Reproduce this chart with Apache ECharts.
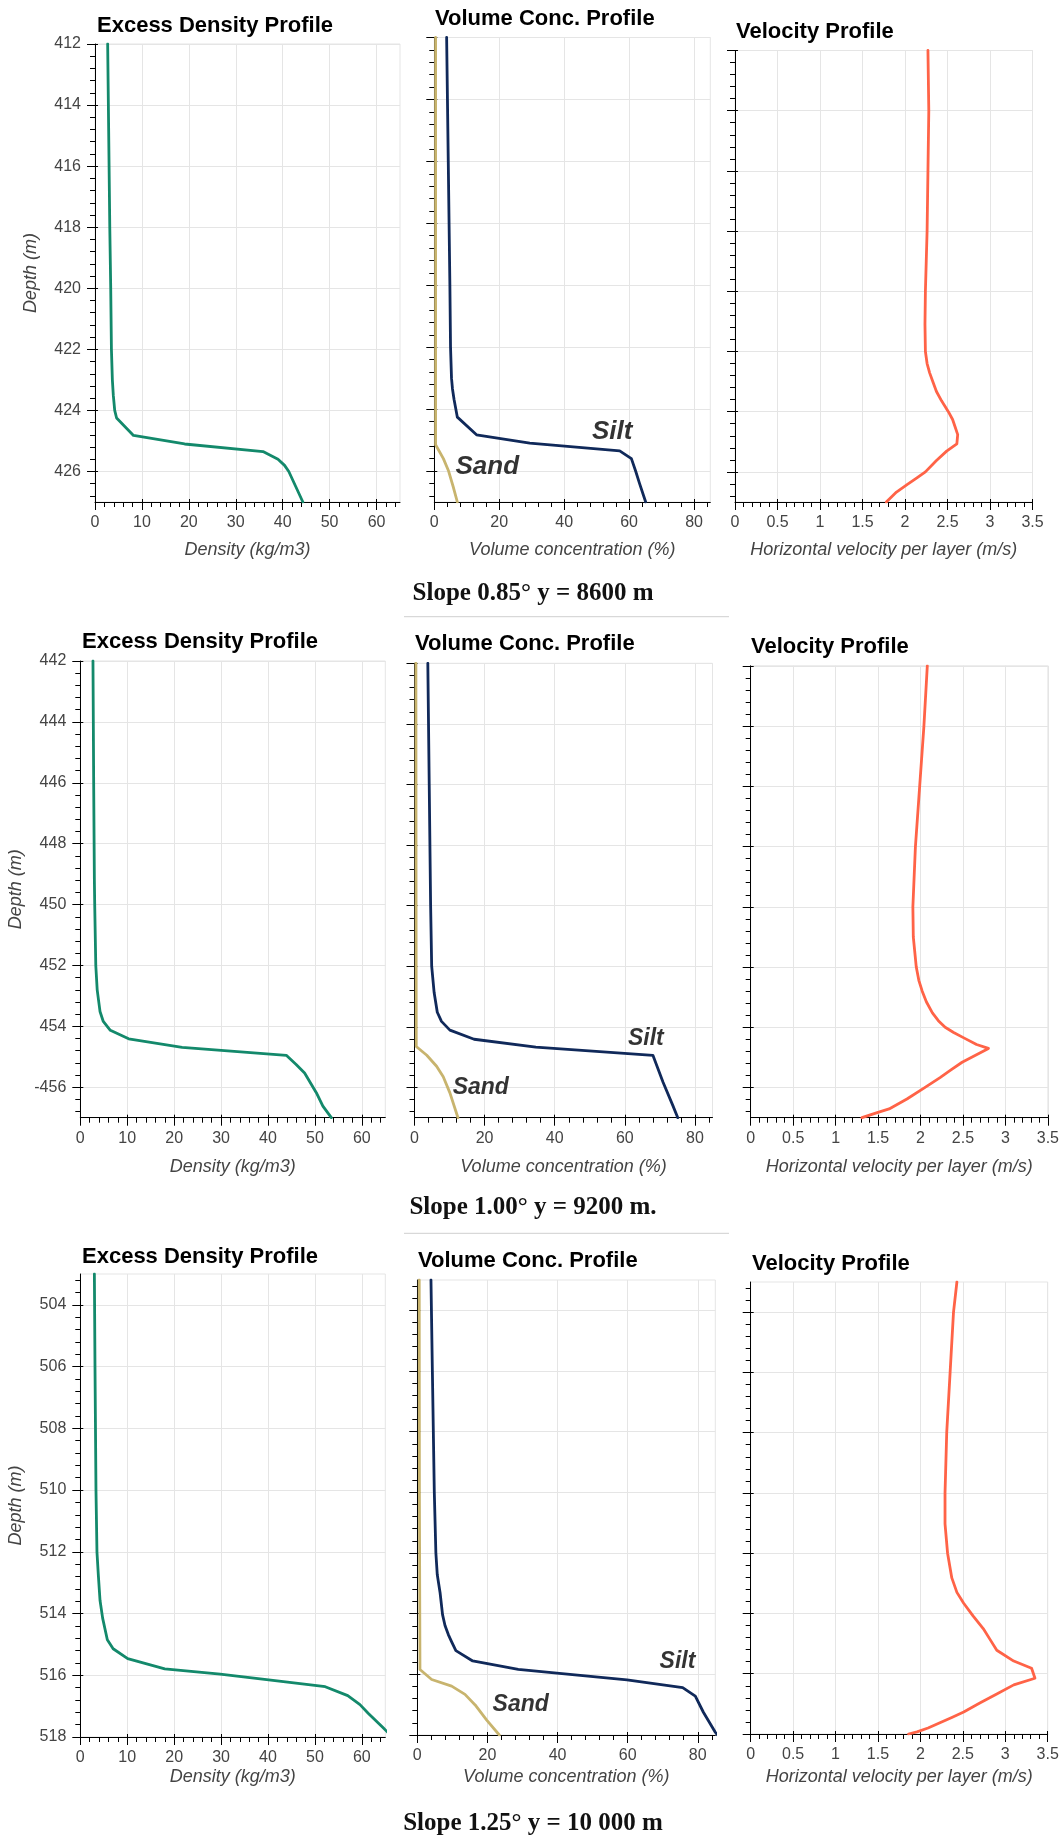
<!DOCTYPE html>
<html>
<head>
<meta charset="utf-8">
<title>Turbidity current profiles</title>
<script src="https://cdn.jsdelivr.net/npm/echarts@6.0.0/dist/echarts.min.js"></script>
<style>
  html, body { margin: 0; padding: 0; background: #fff; }
  #chart { width: 1062px; height: 1839px; }
</style>
</head>
<body>
<div id="chart"></div>
<script>
// ---------- Slope 0.85°, y = 8600 m ----------
const dens1Depth = [412, 414, 416, 418, 420, 422, 423, 423.5, 424, 424.25, 424.82, 425.1, 425.35, 425.6, 425.8, 426, 426.5, 427];
const dens1      = [2.7, 2.85, 3.0, 3.15, 3.35, 3.5, 3.7, 3.9, 4.2, 4.6, 8.2, 19.1, 35.8, 39.0, 40.4, 41.3, 42.8, 44.3];
const silt1Depth = [412, 416, 420, 422, 423, 423.35, 423.7, 424.26, 424.83, 425.1, 425.35, 425.6, 426, 426.4, 427];
const silt1      = [3.8, 4.3, 4.8, 5.0, 5.3, 5.6, 6.1, 7.1, 13.0, 29.4, 57.1, 60.7, 62.0, 63.2, 65.1];
const sand1Depth = [412, 418, 425.15, 425.6, 426, 426.5, 427];
const sand1      = [0.4, 0.4, 0.4, 2.8, 4.4, 5.8, 7.1];
const vel1Depth  = [412, 414, 416, 418, 419, 420, 421.1, 422, 422.4, 422.71, 423.02, 423.33, 423.64, 424, 424.26, 424.51, 424.76, 425.07, 425.31, 425.62, 426, 426.2, 426.43, 426.67, 427];
const vel1       = [2.27, 2.28, 2.27, 2.26, 2.25, 2.24, 2.235, 2.24, 2.26, 2.29, 2.33, 2.37, 2.43, 2.51, 2.56, 2.59, 2.62, 2.61, 2.49, 2.37, 2.24, 2.14, 2.02, 1.90, 1.78];

// ---------- Slope 1.00°, y = 9200 m ----------
const dens2Depth = [442, 446, 449.2, 450, 452, 452.8, 453.51, 453.84, 454.13, 454.41, 454.69, 454.95, 455.25, 455.53, 456.18, 456.62, 457];
const dens2      = [2.7, 2.85, 3.0, 3.07, 3.3, 3.6, 4.2, 4.9, 6.4, 10.3, 21.7, 43.9, 46.0, 47.8, 50.3, 51.7, 53.5];
const silt2Depth = [442, 446, 450, 452, 452.87, 453.52, 453.82, 454.11, 454.41, 454.67, 454.94, 455.83, 456.6, 457];
const silt2      = [3.8, 4.2, 4.6, 4.9, 5.6, 6.5, 7.7, 10.1, 17.0, 34.6, 68.0, 70.9, 73.7, 75.1];
const sand2Depth = [442, 450, 454.65, 454.94, 455.3, 455.65, 456.18, 457];
const sand2      = [0.4, 0.45, 0.5, 3.5, 6.3, 8.2, 10.1, 12.4];
const vel2Depth  = [442, 444, 446, 448, 450, 451, 452, 452.44, 452.8, 453.16, 453.52, 453.78, 454, 454.17, 454.35, 454.57, 454.7, 455.16, 455.43, 455.67, 456.02, 456.38, 456.71, 456.83, 457];
const vel2       = [2.08, 2.04, 1.99, 1.94, 1.91, 1.915, 1.95, 1.98, 2.02, 2.07, 2.14, 2.21, 2.29, 2.39, 2.51, 2.66, 2.80, 2.49, 2.35, 2.23, 2.04, 1.84, 1.63, 1.49, 1.31];

// ---------- Slope 1.25°, y = 10 000 m ----------
const dens3Depth = [503, 506, 510, 512, 512.75, 513.57, 514.15, 514.85, 515.14, 515.46, 515.79, 515.96, 516.14, 516.37, 516.66, 516.95, 517.24, 517.71, 518];
const dens3      = [3.0, 3.13, 3.34, 3.55, 3.84, 4.2, 4.76, 5.76, 7.0, 10.1, 18.0, 29.8, 39.7, 52.2, 57.0, 59.6, 61.4, 64.6, 66.5];
const silt3Depth = [503, 506, 510, 512, 512.72, 513.31, 514.03, 514.39, 514.69, 514.93, 515.22, 515.56, 515.84, 515.96, 516.18, 516.44, 516.72, 517.25, 517.91, 518];
const silt3      = [3.9, 4.3, 4.85, 5.3, 5.7, 6.5, 7.2, 7.9, 8.85, 9.8, 11.0, 15.8, 28.8, 39.8, 59.8, 75.7, 79.3, 81.6, 85.0, 85.6];
const sand3Depth = [503, 510, 515.84, 516.17, 516.39, 516.66, 517.01, 517.51, 518];
const sand3      = [0.55, 0.6, 0.76, 4.1, 9.8, 13.6, 16.5, 19.8, 23.4];
const vel3Depth  = [503, 504, 506, 508, 510, 511.03, 512, 512.82, 513.3, 513.66, 514.08, 514.5, 514.86, 515.22, 515.58, 515.82, 516.15, 516.37, 516.67, 516.97, 517.27, 517.45, 517.63, 517.8, 517.93, 518];
const vel3       = [2.43, 2.39, 2.35, 2.31, 2.29, 2.29, 2.32, 2.37, 2.43, 2.51, 2.62, 2.74, 2.82, 2.90, 3.10, 3.31, 3.35, 3.10, 2.90, 2.70, 2.51, 2.37, 2.23, 2.09, 1.96, 1.86];

// ---------- tick labels ----------
const densTicks = [0, 10, 20, 30, 40, 50, 60];
const densTickLabels = ['0', '10', '20', '30', '40', '50', '60'];
const volTicks = [0, 20, 40, 60, 80];
const volTickLabels = ['0', '20', '40', '60', '80'];
const velTicks = [0, 0.5, 1, 1.5, 2, 2.5, 3, 3.5];
const velTickLabels = ['0', '0.5', '1', '1.5', '2', '2.5', '3', '3.5'];
const depthTicks1 = [412, 414, 416, 418, 420, 422, 424, 426];
const depthTickLabels1 = ['412', '414', '416', '418', '420', '422', '424', '426'];
const depthTicks2 = [442, 444, 446, 448, 450, 452, 454, 456];
const depthTickLabels2 = ['442', '444', '446', '448', '450', '452', '454', '-456'];
const depthTicks3 = [504, 506, 508, 510, 512, 514, 516, 518];
const depthTickLabels3 = ['504', '506', '508', '510', '512', '514', '516', '518'];

// ---------- curve labels ----------
const notes1 = [{ text: 'Silt', x: 54.8, depth: 424.72 }, { text: 'Sand', x: 16.3, depth: 425.85 }];
const notes2 = [{ text: 'Silt', x: 66.0, depth: 454.39 }, { text: 'Sand', x: 18.9, depth: 456.0 }];
const notes3 = [{ text: 'Silt', x: 74.2, depth: 515.57 }, { text: 'Sand', x: 29.5, depth: 517.0 }];

const captions = ['Slope 0.85° y = 8600 m', 'Slope 1.00° y = 9200 m.', 'Slope 1.25° y = 10 000 m'];

// ---------- styling ----------
const SANS = '"Liberation Sans", Arial, Helvetica, sans-serif';
const SERIF = '"Liberation Serif", "Times New Roman", serif';
const C_DENS = '#13896b';
const C_SILT = '#10295a';
const C_SAND = '#c8b46e';
const C_VEL = '#ff6347';
const GRID_C = '#e5e5e5';
const TICK_FONT = 16;

function steps(lo, hi, step) {
  const out = [];
  const k0 = Math.ceil(lo / step - 1e-9);
  for (let k = k0; k * step <= hi + 1e-9; k++) out.push(+(k * step).toFixed(6));
  return out;
}
const pairs = (vals, depths) => vals.map((v, i) => [v, depths[i]]);

const densX = { min: 0, max: 65, ticks: densTicks, labels: densTickLabels, minor: steps(0, 65, 2), name: 'Density (kg/m3)' };
const volX  = { min: 0, max: 85, ticks: volTicks, labels: volTickLabels, minor: steps(0, 85, 4), name: 'Volume concentration (%)' };
const velX  = { min: 0, max: 3.5, ticks: velTicks, labels: velTickLabels, minor: steps(0, 3.5, 0.1), name: 'Horizontal velocity per layer (m/s)' };

const depthY1 = { min: 412, max: 427, ticks: depthTicks1, labels: depthTickLabels1, minor: steps(412, 427, 0.4) };
const depthY2 = { min: 442, max: 457, ticks: depthTicks2, labels: depthTickLabels2, minor: steps(442, 457, 0.4) };
const depthY3 = { min: 503, max: 518, ticks: depthTicks3, labels: depthTickLabels3, minor: steps(503, 518, 0.4) };

const panels = [
  // row 1
  { rect: { left: 95, top: 44, width: 305, height: 458 }, x: densX, y: depthY1, yLabels: true, nameGap: 39,
    title: ['Excess Density Profile', 97, 25.8], lines: [[pairs(dens1, dens1Depth), C_DENS]], notes: [], noteSize: 26 },
  { rect: { left: 434.3, top: 37.5, width: 276, height: 464.5 }, x: volX, y: depthY1, yLabels: false, nameGap: 39,
    title: ['Volume Conc. Profile', 435, 18.5], lines: [[pairs(sand1, sand1Depth), C_SAND], [pairs(silt1, silt1Depth), C_SILT]], notes: notes1, noteSize: 26 },
  { rect: { left: 735, top: 50.5, width: 297.5, height: 451.5 }, x: velX, y: depthY1, yLabels: false, nameGap: 39,
    title: ['Velocity Profile', 736, 32], lines: [[pairs(vel1, vel1Depth), C_VEL]], notes: [], noteSize: 26 },
  // row 2
  { rect: { left: 80.3, top: 661, width: 305, height: 456.7 }, x: densX, y: depthY2, yLabels: true, nameGap: 40,
    title: ['Excess Density Profile', 82, 641.7], lines: [[pairs(dens2, dens2Depth), C_DENS]], notes: [], noteSize: 23 },
  { rect: { left: 414.5, top: 663.3, width: 298, height: 454.4 }, x: volX, y: depthY2, yLabels: false, nameGap: 40,
    title: ['Volume Conc. Profile', 415, 643.5], lines: [[pairs(sand2, sand2Depth), C_SAND], [pairs(silt2, silt2Depth), C_SILT]], notes: notes2, noteSize: 23 },
  { rect: { left: 750.7, top: 665.8, width: 297.3, height: 451.9 }, x: velX, y: depthY2, yLabels: false, nameGap: 40,
    title: ['Velocity Profile', 751, 647], lines: [[pairs(vel2, vel2Depth), C_VEL]], notes: [], noteSize: 23 },
  // row 3
  { rect: { left: 80.3, top: 1274, width: 305, height: 463 }, x: densX, y: depthY3, yLabels: true, nameGap: 31,
    title: ['Excess Density Profile', 82, 1256.5], lines: [[pairs(dens3, dens3Depth), C_DENS]], notes: [], noteSize: 23 },
  { rect: { left: 417.3, top: 1280, width: 298, height: 455 }, x: volX, y: depthY3, yLabels: false, nameGap: 33,
    title: ['Volume Conc. Profile', 418, 1261], lines: [[pairs(sand3, sand3Depth), C_SAND], [pairs(silt3, silt3Depth), C_SILT]], notes: notes3, noteSize: 23 },
  { rect: { left: 750.7, top: 1282, width: 297, height: 452 }, x: velX, y: depthY3, yLabels: false, nameGap: 34,
    title: ['Velocity Profile', 752, 1264], lines: [[pairs(vel3, vel3Depth), C_VEL]], notes: [], noteSize: 23 }
];

const labelFor = (spec) => (v) => {
  const i = spec.ticks.findIndex(t => Math.abs(t - v) < 1e-6);
  return i >= 0 ? spec.labels[i] : '';
};

const grids = [], xAxes = [], yAxes = [], series = [], graphics = [];

panels.forEach((p, gi) => {
  grids.push(Object.assign({ show: true, borderColor: GRID_C, borderWidth: 1, backgroundColor: 'transparent', containLabel: false }, p.rect));

  const xi = xAxes.length, yi = yAxes.length;
  const base = { type: 'value', gridIndex: gi, splitNumber: 5 };

  // x: major ticks, labels, grid lines
  xAxes.push(Object.assign({}, base, {
    position: 'bottom', min: p.x.min, max: p.x.max,
    name: p.x.name, nameLocation: 'middle', nameGap: p.nameGap,
    nameTextStyle: { fontStyle: 'italic', fontSize: 18, color: '#444', fontFamily: SANS },
    axisLine: { show: true, onZero: false, lineStyle: { color: '#000', width: 1 } },
    axisTick: { show: true, inside: false, length: 8, customValues: p.x.ticks, lineStyle: { color: '#000', width: 1 } },
    axisLabel: { show: true, customValues: p.x.ticks, margin: 13, color: '#444', fontSize: TICK_FONT, fontFamily: SANS, formatter: labelFor(p.x) },
    splitLine: { show: true, lineStyle: { color: GRID_C, width: 1 } }
  }));
  // x: minor ticks
  xAxes.push(Object.assign({}, base, {
    position: 'bottom', min: p.x.min, max: p.x.max,
    axisLine: { show: false, onZero: false },
    axisTick: { show: true, inside: false, length: 5, customValues: p.x.minor, lineStyle: { color: '#000', width: 1 } },
    axisLabel: { show: false }, splitLine: { show: false }
  }));
  // x: short inner part of major ticks
  xAxes.push(Object.assign({}, base, {
    position: 'bottom', min: p.x.min, max: p.x.max,
    axisLine: { show: false, onZero: false },
    axisTick: { show: true, inside: true, length: 3, customValues: p.x.ticks, lineStyle: { color: '#000', width: 1 } },
    axisLabel: { show: false }, splitLine: { show: false }
  }));

  // y: depth axis, increasing downward
  yAxes.push(Object.assign({}, base, {
    position: 'left', inverse: true, min: p.y.min, max: p.y.max,
    name: p.yLabels ? 'Depth (m)' : '', nameLocation: 'middle', nameGap: 55, nameRotate: 90,
    nameTextStyle: { fontStyle: 'italic', fontSize: 18, color: '#444', fontFamily: SANS },
    axisLine: { show: true, onZero: false, lineStyle: { color: '#000', width: 1 } },
    axisTick: { show: true, inside: false, length: 8, customValues: p.y.ticks, lineStyle: { color: '#000', width: 1 } },
    axisLabel: { show: p.yLabels, customValues: p.y.ticks, margin: 14, color: '#444', fontSize: TICK_FONT, fontFamily: SANS, formatter: labelFor(p.y) },
    splitLine: { show: true, lineStyle: { color: GRID_C, width: 1 } }
  }));
  yAxes.push(Object.assign({}, base, {
    position: 'left', inverse: true, min: p.y.min, max: p.y.max,
    axisLine: { show: false, onZero: false },
    axisTick: { show: true, inside: false, length: 5, customValues: p.y.minor, lineStyle: { color: '#000', width: 1 } },
    axisLabel: { show: false }, splitLine: { show: false }
  }));
  yAxes.push(Object.assign({}, base, {
    position: 'left', inverse: true, min: p.y.min, max: p.y.max,
    axisLine: { show: false, onZero: false },
    axisTick: { show: true, inside: true, length: 3, customValues: p.y.ticks, lineStyle: { color: '#000', width: 1 } },
    axisLabel: { show: false }, splitLine: { show: false }
  }));

  p.lines.forEach(([data, color]) => {
    series.push({
      type: 'line', xAxisIndex: xi, yAxisIndex: yi, data: data,
      symbol: 'none', showSymbol: false, clip: true, silent: true, z: 3,
      lineStyle: { color: color, width: 2.8, cap: 'round', join: 'round' },
      itemStyle: { color: color }
    });
  });

  p.notes.forEach(n => {
    series.push({
      type: 'scatter', xAxisIndex: xi, yAxisIndex: yi, symbolSize: 0, silent: true, z: 6,
      data: [[n.x, n.depth]],
      label: { show: true, position: 'inside', formatter: n.text, color: '#000',
               fontSize: p.noteSize, fontWeight: 'bold', fontStyle: 'italic', fontFamily: SANS }
    });
  });

  graphics.push({
    type: 'text', x: p.title[1], y: p.title[2], z: 10,
    style: { text: p.title[0], font: 'bold 22px ' + SANS, fill: '#000', align: 'left', verticalAlign: 'middle' }
  });
});

// captions under each row, with thin rules between rows
const captionY = [593.5, 1207.5, 1824];
captions.forEach((c, i) => {
  graphics.push({
    type: 'text', x: 533, y: captionY[i], z: 10,
    style: { text: c, font: 'bold 25px ' + SERIF, fill: '#111', align: 'center', verticalAlign: 'middle' }
  });
});
[616.7, 1233.3].forEach(yy => {
  graphics.push({ type: 'line', z: 10, shape: { x1: 404, y1: yy, x2: 729, y2: yy }, style: { stroke: '#cfcfcf', lineWidth: 1 } });
});

const chart = echarts.init(document.getElementById('chart'), null, { renderer: 'canvas' });
chart.setOption({
  animation: false,
  backgroundColor: '#fff',
  grid: grids,
  xAxis: xAxes,
  yAxis: yAxes,
  series: series,
  graphic: graphics
});
</script>
</body>
</html>
